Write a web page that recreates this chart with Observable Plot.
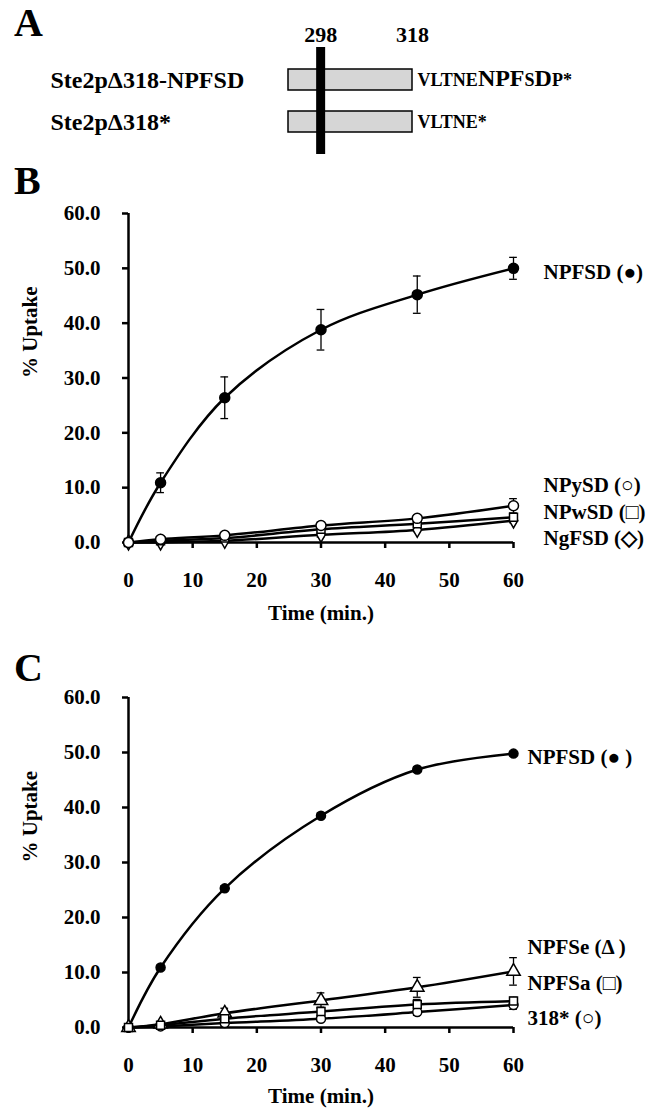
<!DOCTYPE html>
<html><head><meta charset="utf-8">
<script src="https://cdn.jsdelivr.net/npm/d3@7"></script>
<script src="https://cdn.jsdelivr.net/npm/@observablehq/plot@0.6"></script>
<style>
html,body{margin:0;padding:0;background:#fff;}
#page{position:relative;width:658px;height:1110px;overflow:hidden;background:#fff;font-family:"Liberation Serif","Times New Roman",serif;font-weight:bold;color:#000;}
.panel{position:absolute;left:0;z-index:1;}
.letter{position:absolute;left:14px;font-size:40px;line-height:40px;font-weight:bold;z-index:2;}
svg g[aria-label$="-axis tick"]{stroke-width:2.5px;}
</style></head><body>
<div id="page">
  <div class="panel" id="pa" style="top:0px"></div>
  <div class="panel" id="pb" style="top:165px"></div>
  <div class="panel" id="pc" style="top:635px"></div>
  <div class="letter" style="top:3px">A</div>
  <div class="letter" style="top:161px">B</div>
  <div class="letter" style="top:648px">C</div>
</div>
<script>
// ---------- Panel A: constructs ----------
const constructs = ["Ste2p\u0394318-NPFSD", "Ste2p\u0394318*"];
const constructStart = [291, 291];
const constructEnd = [318, 318];
const tails = ["VLTNENPFSDP*", "VLTNE*"];
const tailBig = ["000001110100", "000000"];
const markerPositions = [298, 318];

// ---------- Panel B data ----------
const times = [0, 5, 15, 30, 45, 60];
const b_NPFSD = [0, 10.9, 26.4, 38.8, 45.2, 50.0];
const b_NPFSD_err = [0, 1.8, 3.8, 3.7, 3.4, 2.0];
const b_NgFSD = [0, 0.0, 0.3, 1.4, 2.3, 4.0];
const b_NgFSD_err = [0, 0.1, 0.2, 0.4, 0.3, 0.4];
const b_NPwSD = [0, 0.3, 0.8, 2.4, 3.4, 4.6];
const b_NPwSD_err = [0, 0.2, 0.2, 0.4, 0.4, 0.6];
const b_NPySD = [0, 0.6, 1.3, 3.1, 4.4, 6.7];
const b_NPySD_err = [0, 0.2, 0.3, 0.6, 0.4, 1.3];

// ---------- Panel C data ----------
const c_NPFSD = [0, 10.9, 25.3, 38.5, 46.9, 49.8];
const c_NPFSD_err = [0, 0.4, 0.5, 0.5, 0.5, 0.4];
const c_318 = [0, 0.2, 0.8, 1.6, 2.8, 4.1];
const c_318_err = [0, 0.2, 0.5, 0.5, 0.6, 0.8];
const c_NPFSe = [0, 0.6, 2.6, 4.9, 7.3, 10.2];
const c_NPFSe_err = [0, 0.4, 0.9, 1.4, 1.8, 2.5];
const c_NPFSa = [0, 0.4, 1.6, 2.9, 4.2, 4.8];
const c_NPFSa_err = [0, 0.3, 0.8, 0.8, 0.9, 0.7];

const yTicks = [0, 10, 20, 30, 40, 50, 60];
const xTicks = [0, 10, 20, 30, 40, 50, 60];

const FONT = '"Liberation Serif","Times New Roman",serif';

// ---------- Panel A ----------
const rowsA = constructs.map((name, i) => ({name, start: constructStart[i], end: constructEnd[i], tail: tails[i]}));
const svgA = Plot.plot({
  width: 658, height: 165,
  marginLeft: 288, marginRight: 246, marginTop: 47, marginBottom: 11,
  style: {fontFamily: FONT, fontWeight: "bold", fontSize: "22px", background: "white", color: "black"},
  x: {domain: [291, 318], axis: null},
  y: {type: "band", domain: constructs, padding: 0.49, axis: null},
  marks: [
    Plot.barX(rowsA, {x1: "start", x2: "end", y: "name", fill: "#d6d6d6", stroke: "black", strokeWidth: 1.5}),
    Plot.ruleX([markerPositions[0]], {stroke: "black", strokeWidth: 9}),
    Plot.text(markerPositions, {x: d => d, frameAnchor: "top", lineAnchor: "middle", dy: -13, text: d => String(d), fontSize: 22}),
    Plot.text(rowsA, {y: "name", text: "name", frameAnchor: "left", lineAnchor: "middle", dx: -238, textAnchor: "start", fontSize: 24}),
    Plot.text(rowsA, {y: "name", x: "end", text: "tail", dx: 5, textAnchor: "start", lineAnchor: "middle", fontSize: 18})
  ]
});
d3.select(svgA).selectAll("text").each(function() {
  const t = this.textContent;
  const i = tails.indexOf(t);
  if (i < 0) return;
  const pat = tailBig[i];
  this.textContent = "";
  let j = 0;
  while (j < t.length) {
    let k = j;
    while (k < t.length && pat[k] === pat[j]) k++;
    d3.select(this).append("tspan").attr("font-size", pat[j] === "1" ? 24 : 18).text(t.slice(j, k));
    j = k;
  }
});
document.getElementById("pa").appendChild(svgA);

// ---------- Panels B & C ----------
function buildRows(seriesDefs) {
  const rows = [];
  for (const s of seriesDefs) {
    times.forEach((t, i) => rows.push({series: s.name, t, v: s.values[i], e: s.err[i]}));
  }
  return rows;
}

function uptakePanel(seriesDefs, opt) {
  const rows = buildRows(seriesDefs);
  const errs = rows.filter(d => d.e > 0);
  const marks = [
    Plot.ruleY([0], {stroke: "black", strokeWidth: 2.5}),
    Plot.ruleX([0], {stroke: "black", strokeWidth: 2.5}),
    Plot.line(rows, {x: "t", y: "v", z: "series", curve: "catmull-rom", stroke: "black", strokeWidth: 2.5}),
    Plot.ruleX(errs, {x: "t", y1: d => d.v - d.e, y2: d => d.v + d.e, stroke: "black", strokeWidth: 1.3}),
    Plot.ruleY(errs, {y: d => d.v + d.e, x1: d => d.t - 0.6, x2: d => d.t + 0.6, stroke: "black", strokeWidth: 1.3}),
    Plot.ruleY(errs, {y: d => d.v - d.e, x1: d => d.t - 0.6, x2: d => d.t + 0.6, stroke: "black", strokeWidth: 1.3})
  ];
  for (const s of seriesDefs) {
    marks.push(Plot.dot(rows.filter(d => d.series === s.name), {
      x: "t", y: "v", symbol: s.symbol, r: s.r, fill: s.fill, stroke: "black", strokeWidth: 1.5
    }));
  }
  for (const s of seriesDefs) {
    marks.push(Plot.text(rows.filter(d => d.series === s.name && d.t === 60), {
      x: "t", y: "v", text: () => s.label, dx: opt.labelDx, dy: s.labelDy, textAnchor: "start", lineAnchor: "middle", fontSize: 21
    }));
  }
  marks.push(Plot.text(["% Uptake"], {frameAnchor: "left", lineAnchor: "middle", rotate: -90, dx: -98, text: d => d, fontSize: 21}));
  marks.push(Plot.text(["Time (min.)"], {frameAnchor: "bottom", lineAnchor: "middle", dy: opt.titleDy, text: d => d, fontSize: 21}));
  return Plot.plot({
    width: 658, height: opt.height,
    marginLeft: 128, marginRight: 145, marginTop: opt.marginTop, marginBottom: opt.marginBottom,
    style: {fontFamily: FONT, fontWeight: "bold", fontSize: "21px", background: "white", color: "black"},
    x: {domain: [0, 60], ticks: xTicks, tickSize: 6, tickPadding: 24, tickFormat: d => String(d), label: null},
    y: {domain: [0, 60], ticks: yTicks, tickSize: 6, tickPadding: 22, tickFormat: d3.format(".1f"), label: null},
    marks
  });
}

const seriesB = [
  {name: "NPFSD", values: b_NPFSD, err: b_NPFSD_err, symbol: "circle", r: 5, fill: "black", label: "NPFSD (\u25CF)", labelDy: 4},
  {name: "NgFSD", values: b_NgFSD, err: b_NgFSD_err, symbol: "diamond", r: 4.5, fill: "white", label: "NgFSD (\u25C7)", labelDy: 18},
  {name: "NPwSD", values: b_NPwSD, err: b_NPwSD_err, symbol: "square", r: 4.5, fill: "white", label: "NPwSD (\u25A1)", labelDy: -5},
  {name: "NPySD", values: b_NPySD, err: b_NPySD_err, symbol: "circle", r: 5, fill: "white", label: "NPySD (\u25CB)", labelDy: -20}
];
const seriesC = [
  {name: "NPFSD", values: c_NPFSD, err: c_NPFSD_err, symbol: "circle", r: 4.5, fill: "black", label: "NPFSD (\u25CF )", labelDy: 4},
  {name: "318*", values: c_318, err: c_318_err, symbol: "circle", r: 4.5, fill: "white", label: "318* (\u25CB)", labelDy: 13},
  {name: "NPFSe", values: c_NPFSe, err: c_NPFSe_err, symbol: "triangle", r: 5, fill: "white", label: "NPFSe (\u0394 )", labelDy: -24},
  {name: "NPFSa", values: c_NPFSa, err: c_NPFSa_err, symbol: "square", r: 4.5, fill: "white", label: "NPFSa (\u25A1)", labelDy: -18}
];

document.getElementById("pb").appendChild(uptakePanel(seriesB, {height: 470, marginTop: 48, marginBottom: 93, labelDx: 30, titleDy: 71}));
document.getElementById("pc").appendChild(uptakePanel(seriesC, {height: 475, marginTop: 62, marginBottom: 83, labelDx: 14, titleDy: 69}));
</script>
</body></html>
